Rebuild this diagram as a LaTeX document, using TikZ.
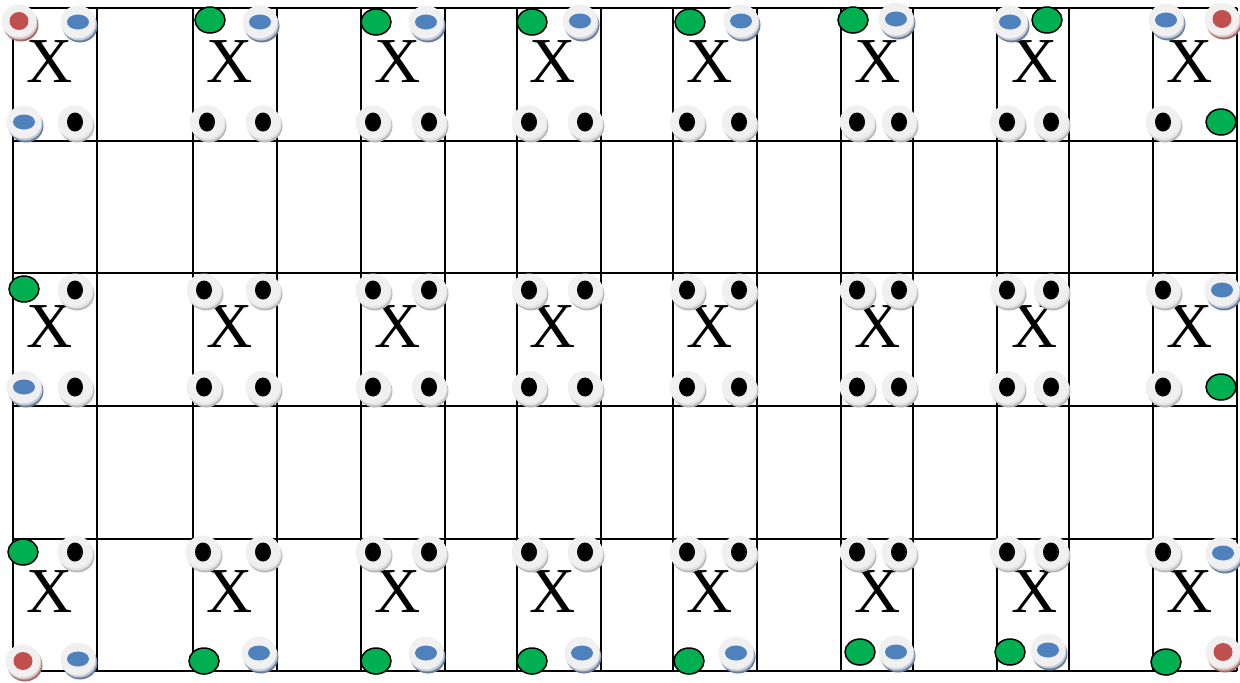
\documentclass[tikz,border=0pt]{standalone}
\usepackage{fontspec}
\setmainfont{Liberation Serif}
\usepackage{xcolor}
\usepackage{tikz}
\usetikzlibrary{calc}

\definecolor{pinface}{HTML}{F0F0F0}
\definecolor{pinblue}{HTML}{4F81BD}
\definecolor{pinred}{HTML}{C0504D}
\definecolor{pingreen}{HTML}{00B050}
\definecolor{shadeblack}{HTML}{B8B8B8}
\definecolor{shadeblue}{HTML}{6A7E9E}
\definecolor{shadered}{HTML}{A86A68}

% mat pin co bong: #1 = x, #2 = y, #3 = mau bong
\newcommand{\pinbase}[3]{%
  \fill[#3] ($(#1,#2)+(2,4)$) ellipse [x radius=17.5, y radius=16.5];
  \fill[#3!40!white] ($(#1,#2)+(1,2)$) ellipse [x radius=17.5, y radius=16.5];
  \fill[pinface] (#1,#2) ellipse [x radius=17.5, y radius=16.5];
}
\newcommand{\pink}[2]{\pinbase{#1}{#2}{shadeblack}\fill[black] (#1,#2) ellipse [x radius=8, y radius=9.5];}
\newcommand{\pinb}[2]{\pinbase{#1}{#2}{shadeblue}\fill[pinblue] (#1,#2) ellipse [x radius=11, y radius=7.5];}
\newcommand{\pinr}[2]{\pinbase{#1}{#2}{shadered}\fill[pinred] (#1,#2) ellipse [x radius=9.5, y radius=9];}
\newcommand{\ping}[2]{\filldraw[fill=pingreen, draw=black, line width=0.75pt] (#1,#2) ellipse [x radius=15, y radius=13];}

\begin{document}
\begin{tikzpicture}[x=0.5pt, y=-0.5pt,
    gridline/.style={line width=1pt},
    chiplabel/.style={anchor=base, inner sep=0pt, font=\fontsize{32}{32}\selectfont}]

    \useasboundingbox (0,0) rectangle (1240,682);

    % =================================================================
    % LUOI O VUONG
    % =================================================================
    % Cac duong ngang
    \draw[gridline] (13,8) -- (1237,8);
    \draw[gridline] (13,141) -- (1237,141);
    \draw[gridline] (13,273) -- (1237,273);
    \draw[gridline] (13,406) -- (1237,406);
    \draw[gridline] (13,539) -- (1237,539);
    \draw[gridline] (13,671) -- (1237,671);

    % Cac duong doc
    \draw[gridline] (13,8) -- (13,671);
    \draw[gridline] (97,8) -- (97,671);
    \draw[gridline] (193,8) -- (193,671);
    \draw[gridline] (277,8) -- (277,671);
    \draw[gridline] (361,8) -- (361,671);
    \draw[gridline] (445,8) -- (445,671);
    \draw[gridline] (517,8) -- (517,671);
    \draw[gridline] (601,8) -- (601,671);
    \draw[gridline] (673,8) -- (673,671);
    \draw[gridline] (757,8) -- (757,671);
    \draw[gridline] (841,8) -- (841,671);
    \draw[gridline] (913,8) -- (913,671);
    \draw[gridline] (997,8) -- (997,671);
    \draw[gridline] (1069,8) -- (1069,671);
    \draw[gridline] (1153,8) -- (1153,671);
    \draw[gridline] (1237,8) -- (1237,671);

    % =================================================================
    % CHU X TRONG CAC O
    % =================================================================
    % Hang 1
    \node[chiplabel] (chip11) at (49.5,82) {X};
    \node[chiplabel] (chip12) at (229.5,82) {X};
    \node[chiplabel] (chip13) at (397.5,82) {X};
    \node[chiplabel] (chip14) at (553,82) {X};
    \node[chiplabel] (chip15) at (709.5,82) {X};
    \node[chiplabel] (chip16) at (877.5,82) {X};
    \node[chiplabel] (chip17) at (1034.5,82) {X};
    \node[chiplabel] (chip18) at (1189.5,82) {X};

    % Hang 2
    \node[chiplabel] (chip21) at (49.5,347) {X};
    \node[chiplabel] (chip22) at (229.5,347) {X};
    \node[chiplabel] (chip23) at (397.5,347) {X};
    \node[chiplabel] (chip24) at (553,347) {X};
    \node[chiplabel] (chip25) at (709.5,347) {X};
    \node[chiplabel] (chip26) at (877.5,347) {X};
    \node[chiplabel] (chip27) at (1034.5,347) {X};
    \node[chiplabel] (chip28) at (1189.5,347) {X};

    % Hang 3
    \node[chiplabel] (chip31) at (49.5,612) {X};
    \node[chiplabel] (chip32) at (229.5,612) {X};
    \node[chiplabel] (chip33) at (397.5,612) {X};
    \node[chiplabel] (chip34) at (553,612) {X};
    \node[chiplabel] (chip35) at (709.5,612) {X};
    \node[chiplabel] (chip36) at (877.5,612) {X};
    \node[chiplabel] (chip37) at (1034.5,612) {X};
    \node[chiplabel] (chip38) at (1189.5,612) {X};

    % =================================================================
    % CAC CHAN (GOC TREN TRAI, TREN PHAI, DUOI TRAI, DUOI PHAI)
    % =================================================================
    % Hang 1
    \pinr{19}{21} \pinb{78}{22} \pinb{24}{122} \pink{75}{122}
    \ping{210}{20} \pinb{260}{22} \pink{207}{122} \pink{263}{122}
    \ping{376}{22} \pinb{426}{22} \pink{373}{122} \pink{429}{122}
    \ping{532}{22} \pinb{580}{21} \pink{529}{122} \pink{585}{122}
    \ping{690}{22} \pinb{741}{21} \pink{687}{122} \pink{739}{122}
    \ping{853}{20} \pinb{896}{19} \pink{857}{122} \pink{899}{122}
    \pinb{1010}{22} \ping{1047}{20} \pink{1007}{122} \pink{1051}{122}
    \pinb{1166}{20} \pinr{1222}{19} \pink{1163}{122} \ping{1221}{122}

    % Hang 2
    \ping{24}{289} \pink{75}{290} \pinb{24}{387} \pink{75}{387}
    \pink{204}{290} \pink{263}{290} \pink{204}{387} \pink{263}{387}
    \pink{373}{290} \pink{429}{290} \pink{373}{387} \pink{429}{387}
    \pink{529}{290} \pink{585}{290} \pink{529}{387} \pink{585}{387}
    \pink{687}{290} \pink{739}{290} \pink{687}{387} \pink{739}{387}
    \pink{857}{290} \pink{899}{290} \pink{857}{387} \pink{899}{387}
    \pink{1007}{290} \pink{1051}{290} \pink{1007}{387} \pink{1051}{387}
    \pink{1163}{290} \pinb{1222}{290} \pink{1163}{387} \ping{1221}{387}

    % Hang 3
    \ping{23}{552} \pink{75}{552} \pinr{23}{661} \pinb{78}{659}
    \pink{203}{552} \pink{263}{552} \ping{204}{661} \pinb{259}{653}
    \pink{373}{552} \pink{429}{552} \ping{376}{661} \pinb{426}{653}
    \pink{529}{552} \pink{585}{552} \ping{532}{661} \pinb{582}{653}
    \pink{687}{552} \pink{739}{552} \ping{689}{661} \pinb{736}{653}
    \pink{857}{552} \pink{899}{552} \ping{860}{652} \pinb{896}{652}
    \pink{1007}{552} \pink{1051}{552} \ping{1010}{652} \pinb{1048}{650}
    \pink{1163}{552} \pinb{1223}{553} \ping{1166}{662} \pinr{1223}{652}

\end{tikzpicture}
\end{document}
